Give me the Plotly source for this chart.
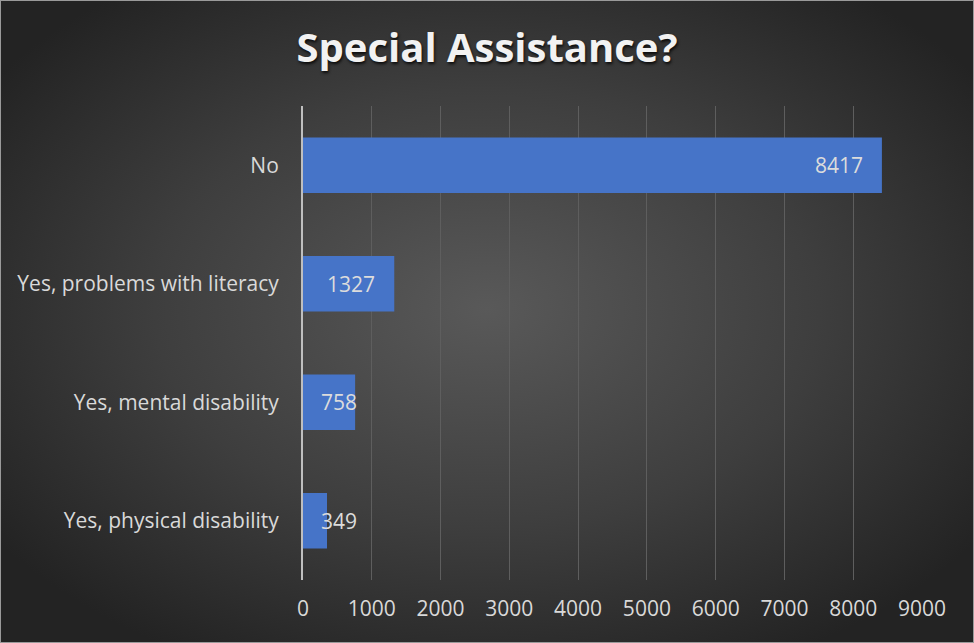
import base64
import plotly.graph_objects as go

# Survey responses
categories = ["Yes, physical disability", "Yes, mental disability",
              "Yes, problems with literacy", "No"]
counts = [349, 758, 1327, 8417]
tick_values = [0, 1000, 2000, 3000, 4000, 5000, 6000, 7000, 8000, 9000]

W, H = 974, 643
ML, MR, MT, MB = 303, 52, 106, 63
X_MAX = 9000

# Radial dark backdrop with a thin frame
svg = f"""<svg xmlns='http://www.w3.org/2000/svg' width='{W}' height='{H}'>
<defs><radialGradient id='g' cx='50%' cy='48%' r='62%'>
<stop offset='0' stop-color='#595959'/>
<stop offset='0.55' stop-color='#3e3e3e'/>
<stop offset='1' stop-color='#232323'/>
</radialGradient></defs>
<rect x='0' y='0' width='{W}' height='{H}' fill='url(#g)'/>
<rect x='0.5' y='0.5' width='{W-1}' height='{H-1}' fill='none' stroke='#9a9a9a' stroke-width='1'/>
</svg>"""
bg_uri = "data:image/svg+xml;base64," + base64.b64encode(svg.encode()).decode()

FONT = "Open Sans"
LABEL_SIZE = 21
PW, PH = W - ML - MR, H - MT - MB

fig = go.Figure()
fig.add_trace(go.Bar(
    y=categories,
    x=counts,
    orientation="h",
    width=0.47,
    marker=dict(color="#4674c8", line=dict(width=0)),
    hoverinfo="skip",
))

# Value labels: at the inner end of each bar, or near the axis when the bar is too short
px_per_unit = PW / X_MAX
annotations = []
for cat, v in zip(categories, counts):
    text_w = len(str(v)) * LABEL_SIZE * 0.57
    bar_px = v * px_per_unit
    if bar_px - 17 - text_w >= 15:
        ann = dict(x=v, xanchor="right", xshift=-17)
    else:
        ann = dict(x=0, xanchor="left", xshift=16)
    ann.update(y=cat, xref="x", yref="y", yanchor="middle", text=str(v),
               showarrow=False,
               font=dict(family=FONT, size=LABEL_SIZE, color="#dcdcdc"))
    annotations.append(ann)

fig.update_layout(
    width=W, height=H,
    margin=dict(l=ML, r=MR, t=MT, b=MB),
    paper_bgcolor="#2b2b2b",
    plot_bgcolor="rgba(0,0,0,0)",
    showlegend=False,
    annotations=annotations,
    title=dict(
        text="<b>Special Assistance?</b>",
        x=0.5, xref="container", xanchor="center",
        y=1 - 48 / H, yref="container", yanchor="middle",
        font=dict(family=FONT, size=40, color="#f2f2f2",
                  shadow="1px 2px 3px rgba(0,0,0,0.8)"),
    ),
    images=[dict(source=bg_uri, xref="paper", yref="paper",
                 x=-ML / PW, y=1 + MT / PH,
                 sizex=W / PW, sizey=H / PH,
                 xanchor="left", yanchor="top", sizing="stretch",
                 layer="below")],
    xaxis=dict(
        range=[0, X_MAX],
        tickvals=tick_values,
        ticktext=[str(v) for v in tick_values],
        showgrid=True, gridcolor="#5e5e5e", gridwidth=1,
        zeroline=False, showline=False,
        tickfont=dict(family=FONT, size=LABEL_SIZE, color="#d9d9d9"),
        ticks="", ticklabelstandoff=14,
        fixedrange=True,
    ),
    yaxis=dict(
        categoryorder="array", categoryarray=categories,
        showgrid=False, zeroline=False,
        showline=True, linecolor="#bfbfbf", linewidth=2,
        tickfont=dict(family=FONT, size=LABEL_SIZE, color="#d9d9d9"),
        ticks="", ticklabelstandoff=18,
        fixedrange=True,
    ),
)

fig.write_html("out.html")
